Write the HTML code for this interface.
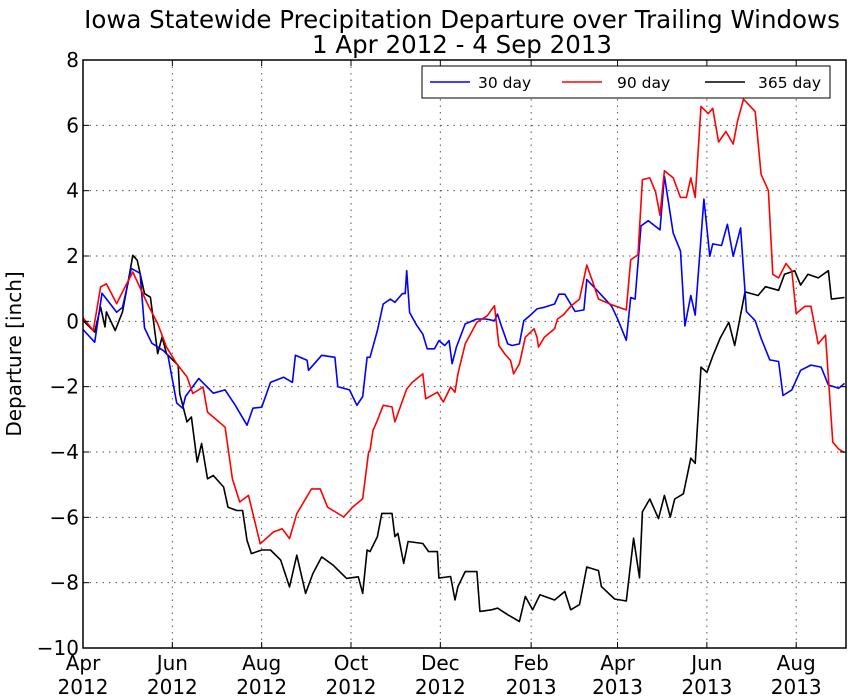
<!DOCTYPE html>
<html><head><meta charset="utf-8"><style>
body{margin:0;background:#fff;}
svg{display:block;font-family:"DejaVu Sans","Liberation Sans",sans-serif;}
</style></head><body>
<svg id="chart" width="848" height="700" viewBox="0 0 848 700" xmlns="http://www.w3.org/2000/svg">
<text x="462" y="28" font-size="24.5" text-anchor="middle">Iowa Statewide Precipitation Departure over Trailing Windows</text>
<text x="462" y="53" font-size="24.5" text-anchor="middle">1 Apr 2012 - 4 Sep 2013</text>
<text transform="translate(21,354) rotate(-90)" font-size="20" text-anchor="middle">Departure [inch]</text>
<g id="grid"></g>
<g id="series"></g>
<rect x="83" y="60" width="763" height="588" fill="none" stroke="#000" stroke-width="1.5"/>
<g id="ticks"></g>
<g>
<rect x="422" y="66" width="408" height="32" fill="#fff" stroke="#000" stroke-width="1"/>
<line x1="430" y1="82" x2="470" y2="82" stroke="#0000ff" stroke-width="1.5"/>
<text x="478" y="88" font-size="15.5">30 day</text>
<line x1="562" y1="82" x2="602" y2="82" stroke="#ff0000" stroke-width="1.5"/>
<text x="617" y="88" font-size="15.5">90 day</text>
<line x1="705" y1="82" x2="745" y2="82" stroke="#000" stroke-width="1.5"/>
<text x="758" y="88" font-size="15.5">365 day</text>
</g>
</svg>
<script>
const xTickDays=[0,61,122,183,244,306,365,426,487];
const xTickMonths=["Apr","Jun","Aug","Oct","Dec","Feb","Apr","Jun","Aug"];
const xTickYears=["2012","2012","2012","2012","2012","2013","2013","2013","2013"];
const yTicks=[-10,-8,-6,-4,-2,0,2,4,6,8];
const d30=[0,8,13,23,27,33,39,42,47,55,58,64,68,70,79,89,97,104,112,116,122,128,137,143,145,153,154,163,172,174,182,187,191,194,196,201,205,210,213,218,220,221,223,228,232,235,240,243,247,250,252,255,261,269,275,281,283,286,290,293,298,301,305,310,315,322,325,329,336,342,344,352,361,365,371,374,377,381,386,394,397,403,408,411,415,418,424,428,430,436,440,444,449,453,459,463,469,475,478,484,490,497,504,509,516,520];
const v30=[-0.25,-0.64,0.86,0.28,0.43,1.62,1.47,-0.2,-0.67,-0.9,-1.04,-2.5,-2.66,-2.3,-1.75,-2.2,-2.1,-2.57,-3.18,-2.66,-2.63,-1.87,-1.71,-1.87,-1.04,-1.19,-1.5,-1.04,-1.1,-2.0,-2.1,-2.57,-2.3,-1.1,-1.1,-0.28,0.53,0.68,0.58,0.85,0.85,1.55,0.27,-0.13,-0.39,-0.84,-0.84,-0.59,-0.74,-0.59,-1.3,-0.79,-0.08,0.07,0.07,0.02,0.22,-0.18,-0.69,-0.74,-0.69,0.02,0.17,0.38,0.43,0.53,0.83,0.83,0.30,0.35,1.28,0.9,0.46,0.08,-0.58,0.73,0.68,2.92,3.08,2.8,4.45,2.7,2.15,-0.14,0.79,0.19,3.74,1.99,2.37,2.32,2.97,1.99,2.86,0.3,0.02,-0.52,-1.18,-1.23,-2.27,-2.1,-1.5,-1.34,-1.4,-1.95,-2.05,-1.9];
const d90=[0,7,12,16,23,27,34,44,51,57,64,71,75,82,85,97,102,107,113,121,130,136,141,146,156,162,167,178,184,191,195,196,198,201,205,211,213,221,225,232,234,242,246,251,254,256,261,269,276,281,284,288,292,294,298,302,308,310,311,315,322,324,328,333,339,344,348,352,361,371,374,379,382,387,391,394,397,403,408,412,415,418,422,427,430,434,439,444,447,451,459,463,468,471,475,480,484,487,493,497,502,507,512,516,520];
const v90=[0.11,-0.28,1.05,1.15,0.54,0.9,1.51,0.54,-0.07,-0.79,-1.3,-1.7,-2.21,-2.01,-2.78,-3.24,-4.82,-5.53,-5.33,-6.81,-6.45,-6.35,-6.65,-5.89,-5.13,-5.13,-5.69,-5.99,-5.69,-5.43,-4.0,-3.95,-3.34,-3.03,-2.57,-2.62,-3.08,-2.07,-1.86,-1.61,-2.37,-2.17,-2.47,-2.01,-2.17,-1.61,-0.69,-0.03,0.17,0.48,-0.74,-1.0,-1.2,-1.61,-1.3,-0.49,-0.23,-0.49,-0.79,-0.49,-0.23,0.07,0.2,0.46,0.68,1.72,1.22,0.68,0.51,0.35,1.88,2.04,4.34,4.39,3.96,3.25,4.61,4.39,3.79,3.79,4.39,3.79,6.58,6.36,6.52,5.49,5.81,5.43,6.14,6.8,6.42,4.5,4.0,1.44,1.33,1.77,1.55,0.24,0.46,0.46,-0.69,-0.42,-3.7,-3.91,-4.02];
const d365=[0,8,12,15,16,22,27,32,34,37,42,46,51,54,57,65,66,71,74,78,81,85,89,96,99,105,109,112,115,122,128,135,141,146,152,157,163,171,180,188,191,194,196,201,204,211,213,215,219,222,232,236,242,243,251,254,256,261,269,271,279,283,290,298,302,307,312,322,329,333,339,344,352,354,363,371,376,380,382,387,393,397,401,404,410,415,418,422,426,430,435,441,445,452,461,466,475,479,486,490,495,502,509,511,520];
const v365=[0.03,-0.33,0.44,-0.17,0.29,-0.28,0.29,1.51,2.02,1.87,0.85,0.74,-0.99,-0.48,-0.99,-1.35,-2.21,-3.08,-2.93,-4.31,-3.74,-4.82,-4.72,-5.07,-5.69,-5.79,-5.79,-6.7,-7.11,-7.0,-7.0,-7.31,-8.13,-7.16,-8.33,-7.72,-7.21,-7.47,-7.87,-7.82,-8.33,-7.0,-7.05,-6.59,-5.88,-5.88,-6.59,-6.49,-7.41,-6.74,-6.8,-7.05,-7.05,-7.86,-7.81,-8.53,-8.12,-7.66,-7.66,-8.88,-8.83,-8.78,-8.98,-9.19,-8.42,-8.83,-8.37,-8.53,-8.27,-8.83,-8.67,-7.52,-7.63,-8.12,-8.5,-8.56,-6.64,-7.85,-5.83,-5.44,-6.04,-5.33,-5.99,-5.44,-5.28,-4.19,-4.35,-1.4,-1.56,-1.07,-0.52,-0.03,-0.74,0.9,0.79,1.06,0.95,1.44,1.55,1.11,1.44,1.33,1.55,0.68,0.73];

const NS='http://www.w3.org/2000/svg';
const X0=83,X1=846,Y0=648,Y1=60,DMAX=521,VMIN=-10,VMAX=8;
function xs(d){return X0+(d/DMAX)*(X1-X0);}
function ys(v){return Y0-(v-VMIN)/(VMAX-VMIN)*(Y0-Y1);}
const grid=document.getElementById('grid'),ticks=document.getElementById('ticks'),series=document.getElementById('series');
function mk(tag,attrs,parent){const e=document.createElementNS(NS,tag);for(const k in attrs)e.setAttribute(k,attrs[k]);parent.appendChild(e);return e;}
yTicks.forEach(v=>{
  const y=ys(v);
  if(v>VMIN&&v<VMAX){const g=mk('line',{x1:X0,x2:X1,y1:y,y2:y,stroke:'#555','stroke-width':1,'stroke-dasharray':'1.5,5'},grid);
  
  }
  const t=mk('line',{x1:X0,x2:X0+6,y1:y,y2:y,stroke:'#000','stroke-width':1},ticks);
  
  
  const t2=mk('line',{x1:X1-6,x2:X1,y1:y,y2:y,stroke:'#000','stroke-width':1},ticks);
  
  
  const lb=mk('text',{x:X0-4,y:y+7,'font-size':20,'text-anchor':'end'},ticks);
  lb.textContent=(v<0?'\u2212':'')+Math.abs(v);
  
  
});
xTickDays.forEach((d,i)=>{
  const x=xs(d);
  if(d>0){const g=mk('line',{x1:x,x2:x,y1:Y1,y2:Y0,stroke:'#555','stroke-width':1,'stroke-dasharray':'1.5,5'},grid);
  
  }
  const t=mk('line',{x1:x,x2:x,y1:Y0-6,y2:Y0,stroke:'#000','stroke-width':1},ticks);
  
  
  const t2=mk('line',{x1:x,x2:x,y1:Y1,y2:Y1+6,stroke:'#000','stroke-width':1},ticks);
  
  
  const a=mk('text',{x:x,y:Y0+22,'font-size':20,'text-anchor':'middle'},ticks);
  a.textContent=xTickMonths[i];
  
  
  const b=mk('text',{x:x,y:Y0+46,'font-size':20,'text-anchor':'middle'},ticks);
  b.textContent=xTickYears[i];
  
  
});
function drawLine(days,vals,color,name){
  const pts=days.map((d,i)=>xs(d).toFixed(1)+','+ys(vals[i]).toFixed(1)).join(' ');
  const p=mk('polyline',{points:pts,fill:'none',stroke:color,'stroke-width':1.6,'stroke-linejoin':'round'},series);
  
  
}
drawLine(d365,v365,'#000000','line-365-day');
drawLine(d30,v30,'#0000ff','line-30-day');
drawLine(d90,v90,'#ff0000','line-90-day');
</script>
</body></html>
